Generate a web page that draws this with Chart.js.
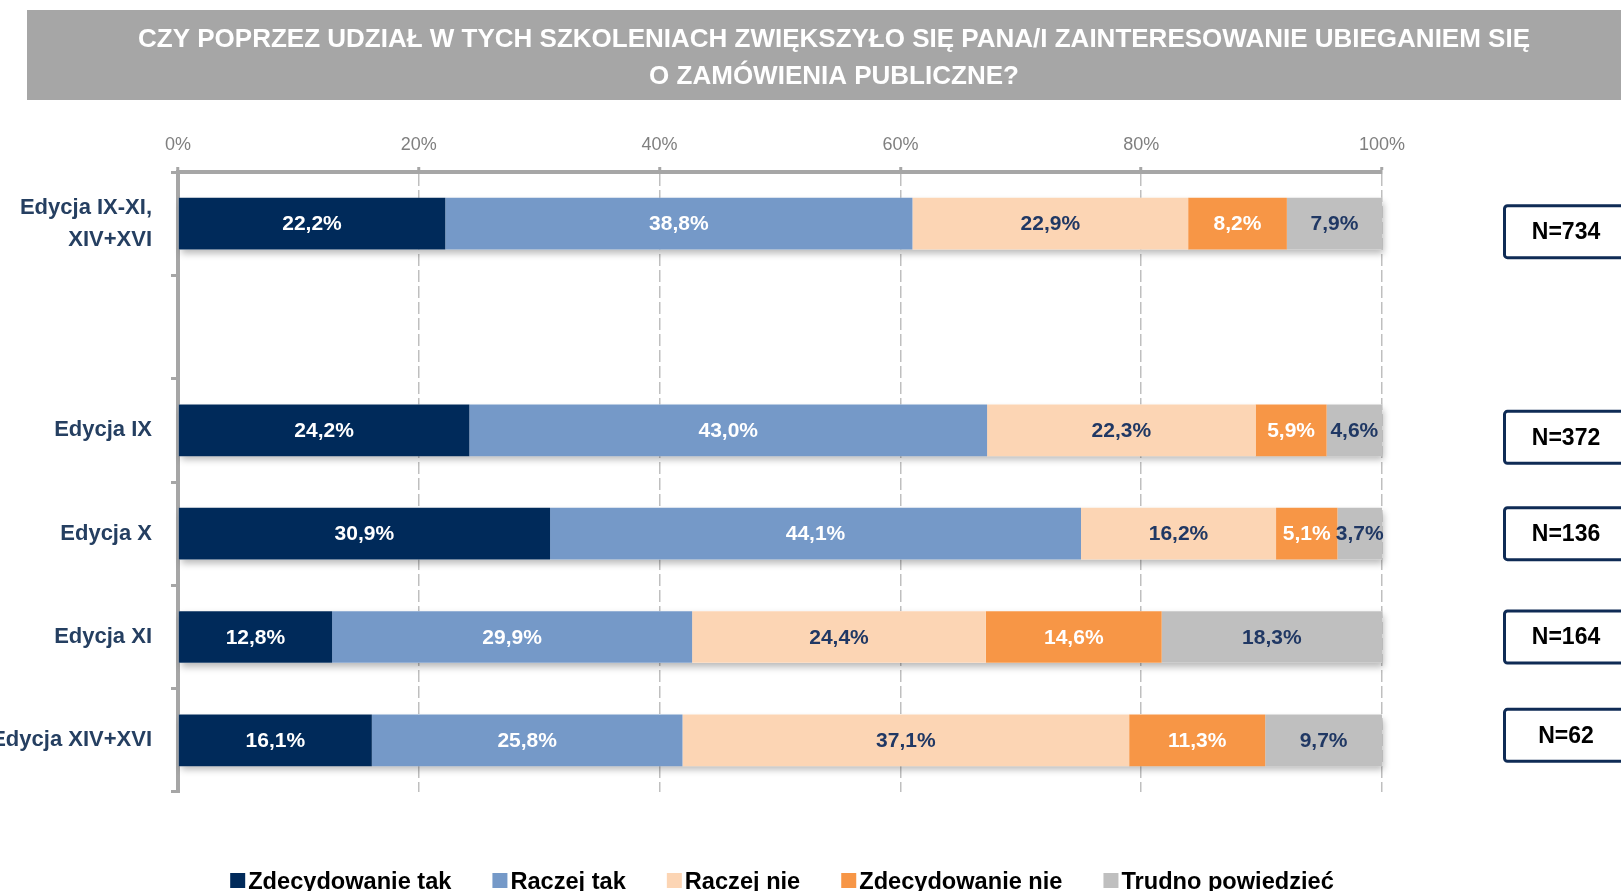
<!DOCTYPE html>
<html lang="pl">
<head>
<meta charset="utf-8">
<title>Zainteresowanie zamówieniami publicznymi</title>
<script src="https://cdn.jsdelivr.net/npm/chart.js@4.4.1/dist/chart.umd.min.js"></script>
<style>
    html, body { margin: 0; padding: 0; background: #ffffff; }
    #wrap { width: 1621px; height: 891px; position: relative; }
</style>
</head>
<body>
<div id="wrap"><canvas id="chart"></canvas></div>
<script>
// dane
const titleLines = [
    'CZY POPRZEZ UDZIAŁ W TYCH SZKOLENIACH ZWIĘKSZYŁO SIĘ PANA/I ZAINTERESOWANIE UBIEGANIEM SIĘ',
    'O ZAMÓWIENIA PUBLICZNE?'
];
const categories = [['Edycja IX-XI,', 'XIV+XVI'], '', 'Edycja IX', 'Edycja X', 'Edycja XI', 'Edycja XIV+XVI'];
const seriesNames = ['Zdecydowanie tak', 'Raczej tak', 'Raczej nie', 'Zdecydowanie nie', 'Trudno powiedzieć'];
const zdecydowanieTak = [22.2, null, 24.2, 30.9, 12.8, 16.1];
const raczejTak = [38.8, null, 43.0, 44.1, 29.9, 25.8];
const raczejNie = [22.9, null, 22.3, 16.2, 24.4, 37.1];
const zdecydowanieNie = [8.2, null, 5.9, 5.1, 14.6, 11.3];
const trudnoPowiedziec = [7.9, null, 4.6, 3.7, 18.3, 9.7];
const sampleSizes = [734, null, 372, 136, 164, 62];
const xTicks = [0, 20, 40, 60, 80, 100];

const FONT = '"Liberation Sans", Arial, sans-serif';
const colors = ['#002a5a', '#7599c8', '#fcd5b4', '#f79646', '#bfbfbf'];
const valueColors = ['#ffffff', '#ffffff', '#203864', '#ffffff', '#203864'];
const series = [zdecydowanieTak, raczejTak, raczejNie, zdecydowanieNie, trudnoPowiedziec];
// ramki N nie są idealnie wyrównane z paskami w oryginale
const boxShift = [8, 0, 7, 0, 0, -5];

Chart.defaults.font.family = FONT;

function fmt(v) {
    return v.toFixed(1).replace('.', ',') + '%';
}

// szary pasek z tytułem
const titlePlugin = {
    id: 'titleBox',
    beforeDraw(chart) {
        const ctx = chart.ctx;
        ctx.save();
        ctx.fillStyle = '#a6a6a6';
        ctx.fillRect(27, 10, chart.width - 27, 90);
        ctx.fillStyle = '#ffffff';
        ctx.font = 'bold 26px ' + FONT;
        ctx.textAlign = 'center';
        ctx.textBaseline = 'middle';
        ctx.fillText(titleLines[0], 834, 40);
        ctx.fillText(titleLines[1], 834, 77);
        ctx.restore();
    }
};

// cień pod całym paskiem
const shadowPlugin = {
    id: 'barShadow',
    beforeDatasetsDraw(chart) {
        const ctx = chart.ctx;
        const first = chart.getDatasetMeta(0).data;
        const last = chart.getDatasetMeta(series.length - 1).data;
        ctx.save();
        ctx.shadowColor = 'rgba(0,0,0,0.28)';
        ctx.shadowBlur = 7;
        ctx.shadowOffsetX = 2;
        ctx.shadowOffsetY = 4;
        ctx.fillStyle = '#ffffff';
        first.forEach((bar, i) => {
            if (zdecydowanieTak[i] === null) return;
            const end = last[i];
            ctx.fillRect(bar.base, bar.y - bar.height / 2, end.x - bar.base, bar.height);
        });
        ctx.restore();
    }
};

// wartości na segmentach
const valuesPlugin = {
    id: 'valueLabels',
    afterDatasetsDraw(chart) {
        const ctx = chart.ctx;
        ctx.save();
        ctx.font = 'bold 21px ' + FONT;
        ctx.textAlign = 'center';
        ctx.textBaseline = 'middle';
        chart.data.datasets.forEach((ds, d) => {
            chart.getDatasetMeta(d).data.forEach((bar, i) => {
                const v = ds.data[i];
                if (v === null) return;
                ctx.fillStyle = valueColors[d];
                ctx.fillText(fmt(v), (bar.x + bar.base) / 2, bar.y + 1);
            });
        });
        ctx.restore();
    }
};

// ramki z liczebnością i legenda
const sidePlugin = {
    id: 'sideBoxes',
    afterDraw(chart) {
        const ctx = chart.ctx;
        const yScale = chart.scales.y;
        ctx.save();
        sampleSizes.forEach((n, i) => {
            if (n === null) return;
            const cy = yScale.getPixelForValue(i) + boxShift[i];
            ctx.lineWidth = 3;
            ctx.strokeStyle = '#0f2b55';
            ctx.fillStyle = '#ffffff';
            ctx.beginPath();
            ctx.roundRect(1504.5, cy - 26, 130, 52, 3);
            ctx.fill();
            ctx.stroke();
            ctx.fillStyle = '#000000';
            ctx.font = 'bold 23px ' + FONT;
            ctx.textAlign = 'center';
            ctx.textBaseline = 'middle';
            ctx.fillText('N=' + n, 1566, cy + 1);
        });

        ctx.font = 'bold 23.6px ' + FONT;
        ctx.textAlign = 'left';
        ctx.textBaseline = 'alphabetic';
        const box = 15, gapText = 3, gapItem = 41;
        const widths = seriesNames.map(s => ctx.measureText(s).width);
        let total = 0;
        widths.forEach(w => { total += box + gapText + w; });
        total += gapItem * (seriesNames.length - 1);
        let x = 782 - total / 2;
        seriesNames.forEach((name, i) => {
            ctx.fillStyle = colors[i];
            ctx.fillRect(x, 873, box, box);
            ctx.fillStyle = '#000000';
            ctx.fillText(name, x + box + gapText, 889);
            x += box + gapText + widths[i] + gapItem;
        });
        ctx.restore();
    }
};

const ctx = document.getElementById('chart').getContext('2d');
new Chart(ctx, {
    type: 'bar',
    data: {
        labels: categories,
        datasets: series.map((data, i) => ({
            label: seriesNames[i],
            data: data,
            backgroundColor: colors[i],
            borderWidth: 0,
            barPercentage: 0.5,
            categoryPercentage: 1.0
        }))
    },
    options: {
        indexAxis: 'y',
        responsive: true,
        maintainAspectRatio: false,
        animation: false,
        layout: { padding: { top: 100, right: 239, bottom: 99, left: 0 } },
        plugins: {
            legend: { display: false },
            title: { display: false },
            tooltip: { enabled: false }
        },
        scales: {
            x: {
                type: 'linear',
                position: 'top',
                stacked: true,
                min: 0,
                max: 100,
                afterBuildTicks(scale) {
                    scale.ticks = xTicks.map(v => ({ value: v }));
                },
                afterFit(scale) { scale.height = 72; },
                ticks: {
                    callback: v => v + '%',
                    color: '#7f7f7f',
                    font: { size: 18 },
                    padding: 11
                },
                grid: {
                    color: c => (c.tick && c.tick.value === 0) ? 'rgba(0,0,0,0)' : '#bfbfbf',
                    lineWidth: 1.5,
                    tickLength: 5,
                    tickColor: '#a6a6a6',
                    tickWidth: 3,
                    tickBorderDash: []
                },
                border: { display: true, color: '#a6a6a6', width: 4, dash: [12, 4] }
            },
            y: {
                type: 'category',
                stacked: true,
                offset: true,
                afterFit(scale) { scale.width = 178; },
                ticks: {
                    color: '#253f61',
                    font: { size: 22, weight: 'bold', lineHeight: 1.45 },
                    padding: 19
                },
                grid: {
                    offset: true,
                    drawOnChartArea: false,
                    tickLength: 7,
                    tickColor: '#a6a6a6',
                    tickWidth: 3
                },
                border: { display: true, color: '#a6a6a6', width: 4 }
            }
        }
    },
    plugins: [titlePlugin, shadowPlugin, valuesPlugin, sidePlugin]
});
</script>
</body>
</html>
